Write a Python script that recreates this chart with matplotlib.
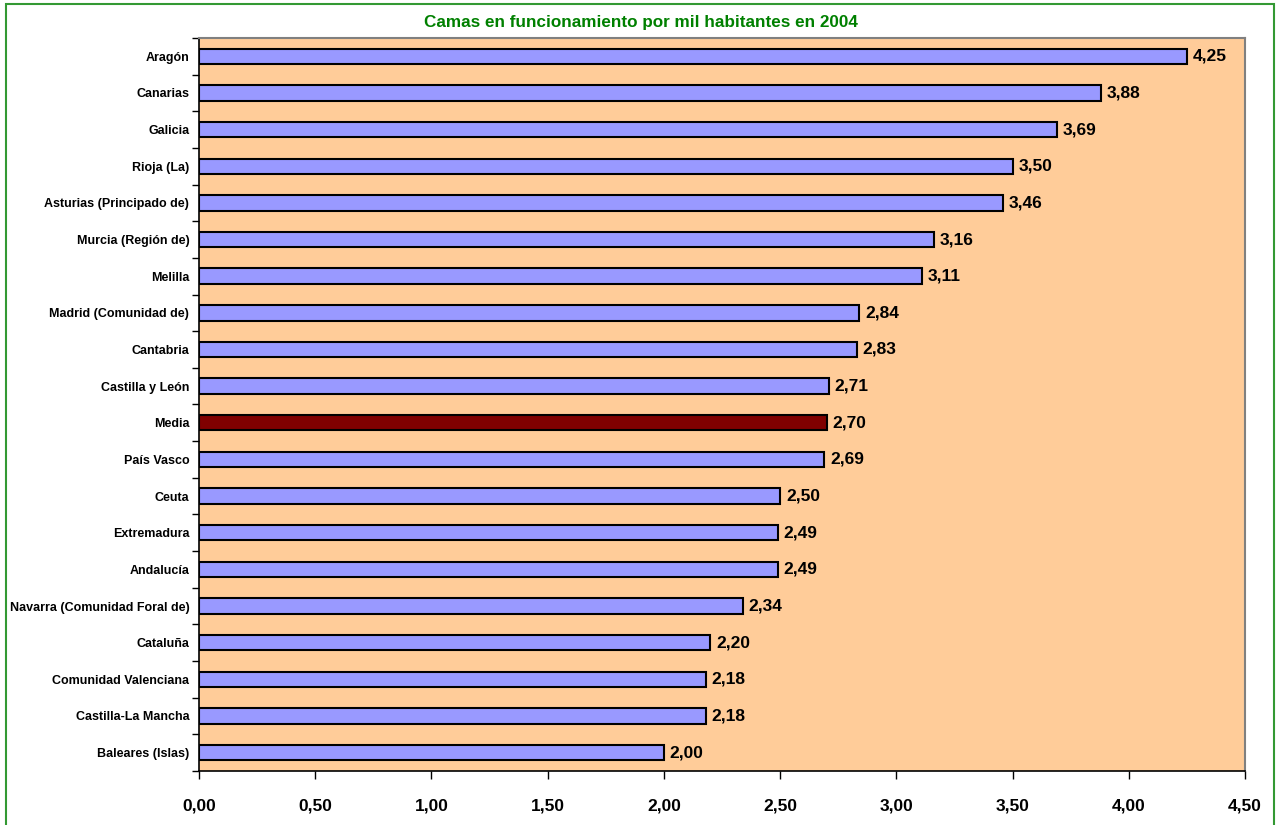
import matplotlib.pyplot as plt
from matplotlib.patches import Rectangle
from matplotlib.ticker import FixedLocator, FuncFormatter

regions = ['Aragón', 'Canarias', 'Galicia', 'Rioja (La)', 'Asturias (Principado de)',
           'Murcia (Región de)', 'Melilla', 'Madrid (Comunidad de)', 'Cantabria',
           'Castilla y León', 'Media', 'País Vasco', 'Ceuta', 'Extremadura', 'Andalucía',
           'Navarra (Comunidad Foral de)', 'Cataluña', 'Comunidad Valenciana',
           'Castilla-La Mancha', 'Baleares (Islas)']
beds = [4.25, 3.88, 3.69, 3.50, 3.46, 3.16, 3.11, 2.84, 2.83, 2.71,
        2.70, 2.69, 2.50, 2.49, 2.49, 2.34, 2.20, 2.18, 2.18, 2.00]

plt.rcParams['font.family'] = ['Liberation Sans', 'DejaVu Sans']
plt.rcParams['font.weight'] = 'bold'

fig = plt.figure(figsize=(12.76, 8.25), dpi=100)
ax = fig.add_axes([0.156, 0.0655, 0.8197, 0.8885])
ax.set_facecolor('#FFCC99')

n = len(regions)
ypos = list(range(n))
colors = ['#800000' if r == 'Media' else '#9999FF' for r in regions]
ax.barh(ypos, beds, height=0.42, color=colors, edgecolor='black', linewidth=1.5)

for y, v in zip(ypos, beds):
    ax.text(v + 0.025, y, f'{v:.2f}'.replace('.', ','), va='center', ha='left',
            fontsize=12.5, fontweight='bold')

ax.set_ylim(n - 0.5, -0.5)
ax.set_xlim(0, 4.5)
ax.set_yticks(ypos)
ax.set_yticklabels(regions, fontsize=9, fontweight='bold')
ax.tick_params(axis='y', which='major', length=0, pad=7)
ax.yaxis.set_minor_locator(FixedLocator([i - 0.5 for i in range(n + 1)]))
ax.tick_params(axis='y', which='minor', length=5, width=1, direction='out')

ax.set_xticks([i * 0.5 for i in range(10)])
ax.xaxis.set_major_formatter(FuncFormatter(lambda x, p: f'{x:.2f}'.replace('.', ',')))
ax.tick_params(axis='x', length=6, width=1, direction='out', labelsize=12.5, pad=14)
for lab in ax.get_xticklabels():
    lab.set_fontweight('bold')

for s in ['top', 'right']:
    ax.spines[s].set_color('#808080')
    ax.spines[s].set_linewidth(1.5)
for s in ['left', 'bottom']:
    ax.spines[s].set_color('black')
    ax.spines[s].set_linewidth(1.2)

fig.text(0.502, 0.973, 'Camas en funcionamiento por mil habitantes en 2004',
         ha='center', va='center', color='#008000', fontsize=12.3, fontweight='bold')

# green frame around the chart
fig.patches.append(Rectangle((6 / 1276, -0.01), 1268 / 1276, 1 - 4 / 825 + 0.01,
                             transform=fig.transFigure, fill=False,
                             edgecolor='#339933', linewidth=1.5))

fig.savefig('out.png', dpi=100)
